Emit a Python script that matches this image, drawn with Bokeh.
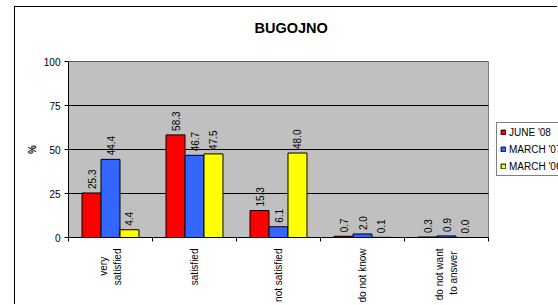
import math
from bokeh.plotting import figure
from bokeh.models import ColumnDataSource, FixedTicker, Legend, LegendItem, Range1d
from bokeh.core.properties import value
from bokeh.embed import file_html
from bokeh.resources import INLINE

# ---- data ----
categories = ["very\u00a0\u00a0\u00a0\nsatisfied", "satisfied", "not satisfied", "do not know",
              "do not want\nto answer\u00a0"]
series_names = ["JUNE '08", "MARCH '07", "MARCH '06"]
june08 = [25.3, 58.3, 15.3, 0.7, 0.3]
march07 = [44.4, 46.7, 6.1, 2.0, 0.9]
march06 = [4.4, 47.5, 48.0, 0.1, 0.0]
series_values = [june08, march07, march06]
colors = ["#FF0000", "#3366FF", "#FFFF00"]
y_ticks = [0, 25, 50, 75, 100]
title_text = "BUGOJNO"
y_label = "%"

FONT = "Liberation Sans"
N = len(categories)
bar_w = 0.226
offsets = [-bar_w, 0.0, bar_w]
centers = [i + 0.5 for i in range(N)]

# frame spans from the plot area's left edge to the figure's right edge;
# the grey plot area covers categories 0..N, the rest holds the legend
FRAME_W = 490
PLOT_W = 420
x_end = N * FRAME_W / PLOT_W

p = figure(width=543, height=298, x_range=Range1d(0, x_end), y_range=Range1d(0, 100),
           output_backend="svg", toolbar_location=None,
           min_border_left=53, min_border_right=0, min_border_top=54, min_border_bottom=67)
p.styles = {"margin-left": "14px", "margin-top": "6px",
            "border-left": "1px solid black", "border-top": "1px solid black"}

p.background_fill_color = "white"
p.border_fill_color = "white"
p.outline_line_color = None
p.xgrid.visible = False
p.ygrid.visible = False

# an empty second line lifts the title away from the plot area
p.title.text = title_text + "\n\u00a0"
p.title.text_font = FONT
p.title.text_font_style = "bold"
p.title.text_font_size = "14.5px"
p.title.text_color = "black"
p.title.align = "left"
p.title.offset = 186
p.title.standoff = 20

# grey plot area and grid lines
p.quad(left=0, right=N, bottom=y_ticks[0], top=y_ticks[-1], fill_color="#C0C0C0",
       line_color="#808080", line_width=1)
grid_vals = [t for t in y_ticks if t > 0]
p.segment(x0=[0] * len(grid_vals), x1=[N] * len(grid_vals), y0=grid_vals, y1=grid_vals,
          line_color="black", line_width=1)

renderers = []
for name, vals, col, off in zip(series_names, series_values, colors, offsets):
    xs = [c + off for c in centers]
    src = ColumnDataSource(dict(x=xs, top=vals, lab=[f"{v:.1f}" for v in vals]))
    r = p.vbar(x="x", top="top", width=bar_w, bottom=0, source=src,
               fill_color=col, line_color="black", line_width=1)
    renderers.append((name, r))
    p.text(x="x", y="top", text="lab", source=src, angle=math.pi / 2,
           text_align="left", text_baseline="middle", y_offset=-4,
           text_font=value(FONT), text_font_size="10px", text_color="black")

# x axis
xa = p.xaxis[0]
xa.bounds = (0, N)
xa.ticker = FixedTicker(ticks=centers, minor_ticks=list(range(N + 1)))
xa.major_label_overrides = {c: lab for c, lab in zip(centers, categories)}
xa.major_tick_line_color = None
xa.major_tick_out = 0
xa.major_tick_in = 0
xa.minor_tick_line_color = "black"
xa.minor_tick_out = 4
xa.minor_tick_in = 0
xa.major_label_orientation = math.pi / 2
xa.major_label_standoff = 7
xa.major_label_text_font = FONT
xa.major_label_text_font_size = "10px"
xa.major_label_text_color = "black"
xa.axis_line_color = "black"

# y axis
ya = p.yaxis[0]
ya.ticker = FixedTicker(ticks=y_ticks, minor_ticks=[])
ya.major_tick_out = 4
ya.major_tick_in = 0
ya.major_tick_line_color = "black"
ya.major_label_standoff = 4
ya.major_label_text_font = FONT
ya.major_label_text_font_size = "10px"
ya.major_label_text_color = "black"
ya.axis_line_color = "black"
ya.axis_label = y_label
ya.axis_label_text_font = FONT
ya.axis_label_text_font_size = "10px"
ya.axis_label_text_font_style = "bold"
ya.axis_label_text_color = "black"
ya.axis_label_standoff = 3

legend = Legend(items=[LegendItem(label=n, renderers=[r]) for n, r in renderers],
                location=(428, 61), orientation="vertical",
                glyph_width=6, glyph_height=6, label_height=12, label_standoff=3,
                spacing=5, padding=3, margin=0,
                label_text_font=FONT, label_text_font_size="10px", label_text_color="black",
                border_line_color="black", border_line_width=1, background_fill_color="white",
                background_fill_alpha=1.0)
p.add_layout(legend, "center")

open("out.html", "w").write(file_html(p, INLINE))
